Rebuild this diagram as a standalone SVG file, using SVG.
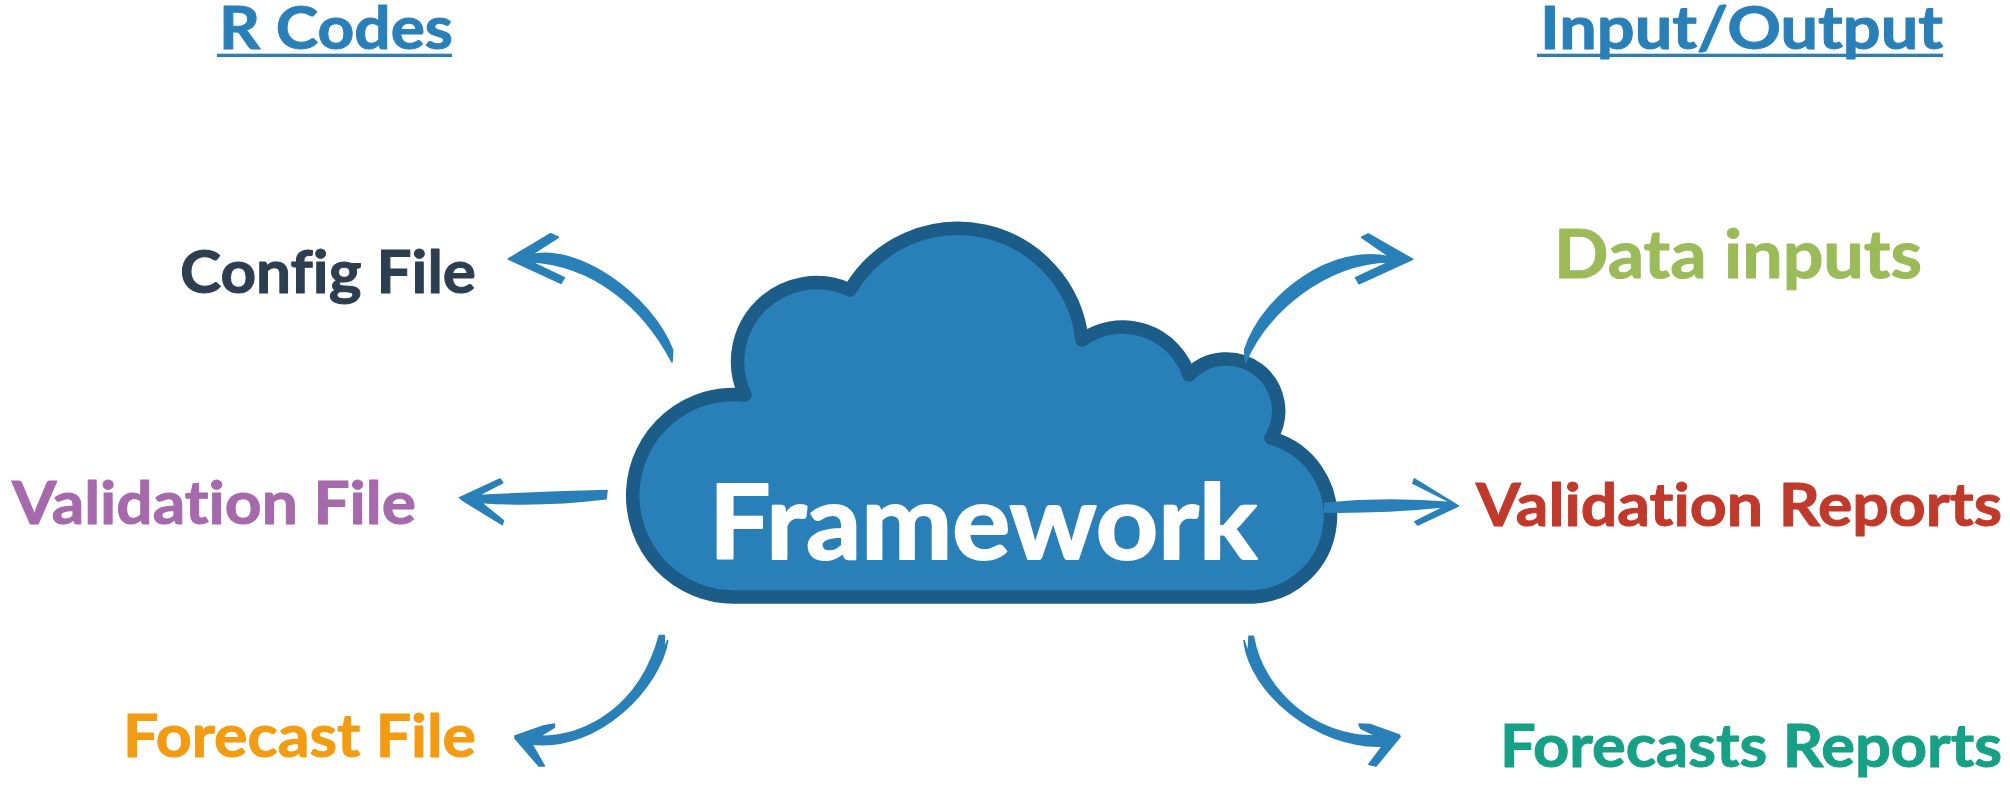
<svg xmlns="http://www.w3.org/2000/svg" width="2010" height="788" viewBox="0 0 2010 788">
<style>
text{font-family:"Lato","Open Sans","Liberation Sans",sans-serif;font-weight:700;font-size:60px;font-variant-ligatures:none;fill:currentColor;stroke:currentColor;stroke-width:1px;stroke-linejoin:round}
.arrow{fill:#2980b9;stroke:#2980b9;stroke-width:5;stroke-linejoin:round}
</style>
<rect width="2010" height="788" fill="#ffffff"/>
<g id="cloud">
<path d="M734 597A101.3 101.3 0 1 1 745 395A79 79 0 0 1 850 290A125 125 0 0 1 1082 340A70 70 0 0 1 1189 375A52 52 0 0 1 1271 438A81 81 0 0 1 1253 597Z" fill="#2980b9" stroke="#1b5c88" stroke-width="13.5" stroke-linejoin="round"/>
<text x="709" y="559" style="font-size:103px;stroke-width:2px;color:#ffffff" textLength="548" lengthAdjust="spacingAndGlyphs">Framework</text>
</g>
<g id="connectors">
<path class="arrow" transform="translate(480 210) scale(.3333)" d="M85 147L212 71L235 82L152 135C290 100 510 250 578 420L576 456C490 290 340 165 152 155L253 203L243 220Z"/>
<path class="arrow" transform="translate(1220 210) scale(.3333)" d="M578 148L445 72L425 82L512 142C340 100 130 250 74 420L77 456C140 310 310 160 510 155L407 203L417 221Z"/>
<path class="arrow" transform="translate(440 460) scale(.3333)" d="M59 113L180 57L188 68L112 107Q300 97 501 92L498 116Q300 140 122 127L190 182L187 194L67 120Z"/>
<path class="arrow" transform="translate(1320 460) scale(.3333)" d="M415 138L283 57L279 70L395 128Q200 112 14 130L14 156Q200 158 375 140L285 185L293 195Z"/>
<path class="arrow" transform="translate(500 620) scale(.3333)" d="M45 348L130 318L163 312L163 322L118 350C260 350 420 260 478 47L493 47L492 90L503 62C480 200 300 395 95 372L133 438L117 438L45 355Z"/>
<path class="arrow" transform="translate(1230 620) scale(.3333)" d="M508 345L420 314L387 312L392 325L440 348C260 350 100 220 70 49L57 49L55 100L42 62C60 220 260 385 458 378L417 433L438 438L510 350Z"/>
</g>
<g id="heading-r-codes" style="color:#2980b9">
<text x="219" y="49" textLength="234" lengthAdjust="spacingAndGlyphs">R Codes</text>
<rect x="217" y="53.7" width="235" height="3.3" fill="#2980b9"/>
</g>
<g id="heading-input-output" style="color:#2980b9">
<text x="1540" y="49" textLength="403" lengthAdjust="spacingAndGlyphs">Input/Output</text>
<rect x="1537" y="53.7" width="406" height="3.3" fill="#2980b9"/>
</g>
<g id="config-file" style="color:#2c3e50"><text x="180" y="293" textLength="296" lengthAdjust="spacingAndGlyphs">Config File</text></g>
<g id="validation-file" style="color:#a569ac"><text x="12" y="524" textLength="404" lengthAdjust="spacingAndGlyphs">Validation File</text></g>
<g id="forecast-file" style="color:#f39c12"><text x="123" y="757" textLength="353" lengthAdjust="spacingAndGlyphs">Forecast File</text></g>
<g id="data-inputs" style="color:#9bbb59"><text x="1554" y="278" style="font-size:67px" textLength="368" lengthAdjust="spacingAndGlyphs">Data inputs</text></g>
<g id="validation-reports" style="color:#c0392b"><text x="1476" y="526" textLength="526" lengthAdjust="spacingAndGlyphs">Validation Reports</text></g>
<g id="forecasts-reports" style="color:#16a085"><text x="1500" y="767" textLength="502" lengthAdjust="spacingAndGlyphs">Forecasts Reports</text></g>
</svg>
